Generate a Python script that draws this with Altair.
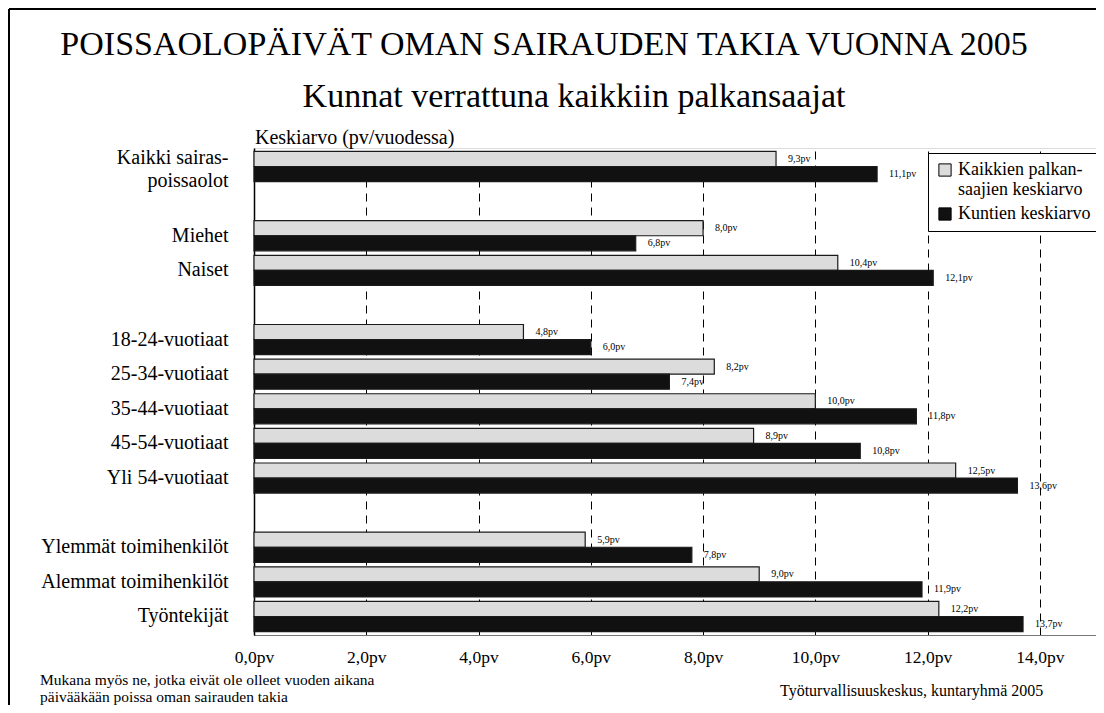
import altair as alt
import pandas as pd

FONT = "Liberation Serif"

categories = ["Kaikki sairas-|poissaolot", " ", "Miehet", "Naiset", "  ",
              "18-24-vuotiaat", "25-34-vuotiaat", "35-44-vuotiaat", "45-54-vuotiaat",
              "Yli 54-vuotiaat", "   ", "Ylemmät toimihenkilöt",
              "Alemmat toimihenkilöt", "Työntekijät"]
all_employees = [9.3, None, 8.0, 10.4, None, 4.8, 8.2, 10.0, 8.9, 12.5, None, 5.9, 9.0, 12.2]
municipalities = [11.1, None, 6.8, 12.1, None, 6.0, 7.4, 11.8, 10.8, 13.6, None, 7.8, 11.9, 13.7]
series = ["Kaikkien palkan-|saajien keskiarvo", "Kuntien keskiarvo"]
x_ticks = [0, 2, 4, 6, 8, 10, 12, 14]

TITLE = "POISSAOLOPÄIVÄT OMAN SAIRAUDEN TAKIA VUONNA 2005"
SUBTITLE = "Kunnat verrattuna kaikkiin palkansaajat"
UNIT = "Keskiarvo (pv/vuodessa)"
NOTE = "Mukana myös ne, jotka eivät ole olleet vuoden aikana\npäivääkään poissa oman sairauden takia"
SOURCE = "Työturvallisuuskeskus, kuntaryhmä 2005"

rows = []
for cat, a, m in zip(categories, all_employees, municipalities):
    for s, v in zip(series, [a, m]):
        if v is not None:
            rows.append({"cat": cat, "series": s, "value": v,
                         "label": f"{v:.1f}".replace(".", ",") + "pv"})
df = pd.DataFrame(rows)

x_enc = alt.X("value:Q", scale=alt.Scale(domain=[0, 15], nice=False),
              axis=alt.Axis(values=x_ticks, title=None, grid=True, gridDash=[8, 6],
                            gridColor="#000", gridWidth=1, ticks=False,
                            labelExpr="replace(format(datum.value, '.1f'), '.', ',') + 'pv'",
                            labelFontSize=17.5, labelPadding=13, labelFont=FONT,
                            labelColor="#000", labelFlush=False, labelAlign="center",
                            domainColor="#777"))
y_enc = alt.Y("cat:N", scale=alt.Scale(domain=categories, paddingInner=0.13, paddingOuter=0.1),
              axis=alt.Axis(title=None, ticks=False, grid=False,
                            labelExpr="split(datum.label, '|')",
                            labelOffset={"condition": {"test": "indexof(datum.value, '|') >= 0",
                                                       "value": -9},
                                         "value": 0},
                            labelFontSize=20, labelPadding=26, labelFont=FONT,
                            labelColor="#000", labelLimit=400, labelLineHeight=23,
                            domainColor="#000", domainWidth=1.5))
yoff = alt.YOffset("series:N", scale=alt.Scale(domain=series))

base = alt.Chart(df)
bars = base.mark_bar(stroke="#1a1a1a", strokeWidth=1.2).encode(
    x=x_enc, y=y_enc, yOffset=yoff,
    color=alt.Color("series:N",
                    scale=alt.Scale(domain=series, range=["#dcdcdc", "#111111"]),
                    legend=alt.Legend(title=None, orient="none", legendX=674, legendY=5,
                                      strokeColor="#000", fillColor="#fff", padding=8,
                                      labelFont=FONT, labelFontSize=18, labelColor="#000",
                                      labelExpr="split(datum.label, '|')",
                                      symbolType="square", symbolSize=150,
                                      symbolStrokeColor="#000", symbolStrokeWidth=1,
                                      rowPadding=6, labelOffset=4, labelLimit=300)),
)
texts = base.mark_text(align="left", baseline="middle", dx=12, fontSize=10,
                       font=FONT, color="#000").encode(
    x="value:Q", y=alt.Y("cat:N", scale=alt.Scale(domain=categories)),
    yOffset=yoff, text="label:N")


def note(txt, x, y, size, align="center", line_height=None):
    return alt.Chart(pd.DataFrame({"t": [txt]})).mark_text(
        font=FONT, fontSize=size, align=align, baseline="middle", color="#000",
        lineBreak="\n", lineHeight=line_height or size + 3
    ).encode(x=alt.value(x), y=alt.value(y), text="t:N")


title = note(TITLE, 290, -103, 34)
subtitle = note(SUBTITLE, 320, -51, 34)
unit = note(UNIT, 1, -10, 20, align="left")
footnote = note(NOTE, -214, 532, 15.5, align="left", line_height=16.5)
source = note(SOURCE, 526, 543, 16, align="left")

frame_df = pd.DataFrame({"a": [0]})
frame_left = alt.Chart(frame_df).mark_rule(color="#000", strokeWidth=2).encode(
    x=alt.value(-245), y=alt.value(-139), y2=alt.value(700))
frame_top = alt.Chart(frame_df).mark_rule(color="#000", strokeWidth=2).encode(
    x=alt.value(-245), x2=alt.value(900), y=alt.value(-139))

chart = alt.layer(bars, texts, title, subtitle, unit, footnote, source,
                  frame_left, frame_top).properties(
    width=842, height=487,
    autosize=alt.AutoSizeParams(type="none"),
    padding={"left": 246, "top": 140, "right": 0, "bottom": 70},
    background="#ffffff",
).configure_view(stroke="#888", strokeWidth=1).configure(font=FONT)

chart.save("out.html", embed_options={"renderer": "svg", "actions": False})
